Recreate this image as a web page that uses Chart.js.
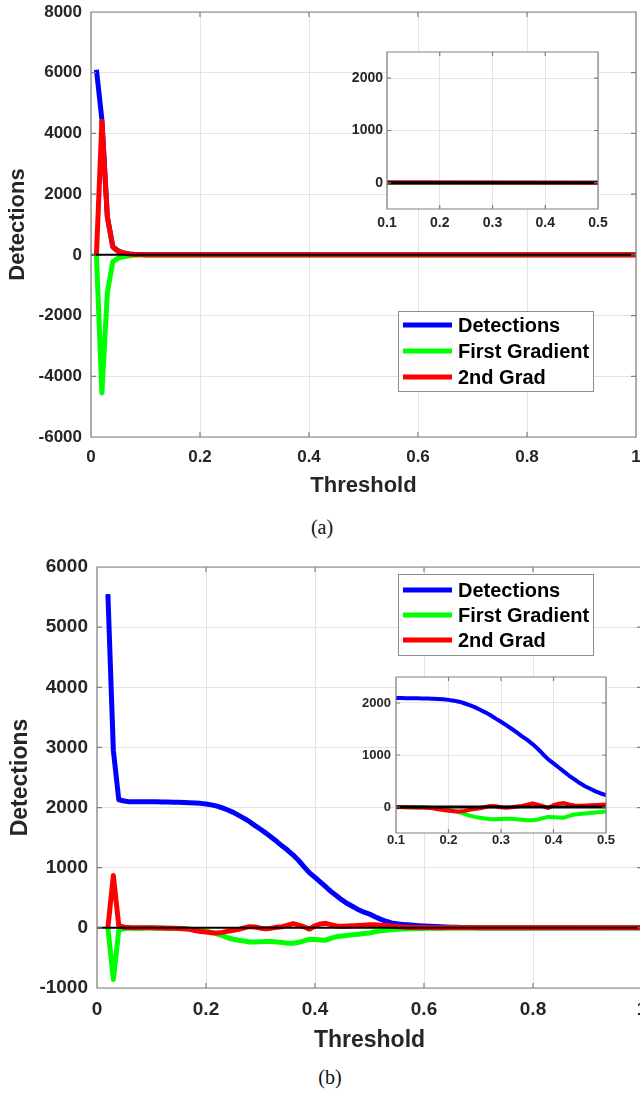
<!DOCTYPE html>
<html>
<head>
<meta charset="utf-8">
<script src="https://cdn.jsdelivr.net/npm/chart.js@4.4.1/dist/chart.umd.min.js"></script>
<style>
  html, body { margin: 0; padding: 0; background: #fff; }
  #page { position: relative; width: 640px; height: 1095px; overflow: hidden; background: #fff; }
  #page canvas { position: absolute; }
  .caption {
    position: absolute;
    font: 20px "Liberation Serif", "Times New Roman", serif;
    color: #111;
    transform: translate(-50%, -50%);
  }
</style>
</head>
<body>
<div id="page">
  <canvas id="mainA" width="650" height="499" style="left:0;top:0"></canvas>
  <canvas id="insetA" width="270" height="200" style="left:340px;top:42px"></canvas>
  <div class="caption" style="left:322px;top:527px">(a)</div>
  <canvas id="mainB" width="650" height="514" style="left:0;top:540px"></canvas>
  <canvas id="insetB" width="270" height="200" style="left:350px;top:667px"></canvas>
  <div class="caption" style="left:330px;top:1077px">(b)</div>
</div>
<script>
// ---- tick positions ----
const xTicksMain = [0, 0.2, 0.4, 0.6, 0.8, 1];
const xTicksInset = [0.1, 0.2, 0.3, 0.4, 0.5];
const yTicksA = [-6000, -4000, -2000, 0, 2000, 4000, 6000, 8000];
const yTicksB = [-1000, 0, 1000, 2000, 3000, 4000, 5000, 6000];
const yTicksInset = [0, 1000, 2000];

// ---- black reference line at zero ----
const zeroLineX = [0, 1];
const zeroLineY = [0, 0];

// ---- (a) threshold sweep ----
const thresholdA = [0.01, 0.02, 0.03, 0.04, 0.05, 0.06, 0.07, 0.08, 0.09, 0.10, 1.0];
const detectionsA = [6100, 4450, 1250, 270, 130, 60, 30, 15, 8, 4, 0];
const firstGradA = [0, -4550, -1250, -220, -110, -60, -30, -15, -8, -4, 0];
const secondGradA = [0, 4400, 1250, 260, 110, 60, 30, 15, 8, 4, 0];

// ---- (b) threshold sweep ----
const thresholdB = [
  0.02, 0.03, 0.04, 0.05, 0.06, 0.07, 0.08, 0.09, 0.10, 0.11,
  0.12, 0.13, 0.14, 0.15, 0.16, 0.17, 0.18, 0.19, 0.20, 0.21,
  0.22, 0.23, 0.24, 0.25, 0.26, 0.27, 0.28, 0.29, 0.30, 0.31,
  0.32, 0.33, 0.34, 0.35, 0.36, 0.37, 0.38, 0.39, 0.40, 0.41,
  0.42, 0.43, 0.44, 0.45, 0.46, 0.47, 0.48, 0.49, 0.50, 0.51,
  0.52, 0.53, 0.54, 0.55, 0.56, 0.57, 0.58, 0.59, 0.60, 0.61,
  0.62, 0.63, 0.64, 0.65, 0.66, 0.67, 0.68, 0.69, 0.70,
  1.0,
];
const detectionsB = [
  5550, 2950, 2130, 2110, 2095, 2095, 2095, 2095, 2095, 2095,
  2093, 2092, 2090, 2088, 2085, 2080, 2075, 2070, 2060, 2045,
  2025, 1995, 1960, 1920, 1870, 1820, 1765, 1700, 1640, 1575,
  1505, 1435, 1360, 1290, 1210, 1120, 1015, 915, 840, 760,
  680, 600, 530, 460, 400, 350, 300, 260, 230, 185,
  145, 110, 82, 68, 58, 50, 42, 35, 30, 25,
  21, 17, 14, 11, 9, 7, 5, 4, 3,
  0,
];
const firstGradB = [
  0, -860, -40, -10, -5, -5, -5, -3, -3, -3,
  -5, -8, -10, -12, -15, -20, -30, -40, -55, -75,
  -100, -130, -165, -190, -205, -220, -235, -235, -230, -225,
  -228, -235, -245, -255, -255, -240, -215, -190, -195, -200,
  -205, -170, -145, -135, -125, -115, -105, -95, -85, -65,
  -50, -40, -32, -25, -20, -16, -13, -11, -9, -7,
  -6, -5, -4, -3, -3, -2, -2, -1, -1,
  0,
];
const secondGradB = [
  0, 870, 35, 10, 5, 3, 2, 0, 0, -2,
  -3, -5, -8, -10, -15, -25, -45, -60, -70, -80,
  -85, -75, -55, -40, -25, 0, 20, 15, -5, -15,
  -5, 10, 20, 45, 70, 45, 15, -20, 35, 65,
  75, 50, 30, 25, 30, 35, 40, 45, 50, 50,
  45, 40, 30, 22, 15, 10, 8, 6, 5, 4,
  3, 3, 2, 2, 1, 1, 1, 0, 0,
  0,
];

const FONT = '"Liberation Sans", Arial, Helvetica, sans-serif';
const TEXT = '#262626';

function points(xs, ys) {
  return xs.map((x, i) => ({ x: x, y: ys[i] }));
}

// blue / green / red traces plus the zero line; lower order is drawn on top
function traces(xs, det, g1, g2, width, zeroWidth) {
  return [
    { label: 'Detections', data: points(xs, det), borderColor: '#0000ff', borderWidth: width, order: 4 },
    { label: 'First Gradient', data: points(xs, g1), borderColor: '#00ff00', borderWidth: width, order: 3 },
    { label: '2nd Grad', data: points(xs, g2), borderColor: '#ff0000', borderWidth: width, order: 2 },
    { label: '', data: points(zeroLineX, zeroLineY), borderColor: '#000000', borderWidth: zeroWidth, order: 1 },
  ];
}

// MATLAB-like box around the plot area with inward tick marks
const axesBox = {
  id: 'axesBox',
  beforeDraw(chart, args, opts) {
    if (!opts.fill) return;
    const { ctx, chartArea: a } = chart;
    ctx.save();
    ctx.fillStyle = opts.fill;
    ctx.fillRect(a.left, a.top, a.right - a.left, a.bottom - a.top);
    ctx.restore();
  },
  afterDatasetsDraw(chart, args, opts) {
    const { ctx, chartArea: a, scales } = chart;
    const len = opts.tickLength;
    ctx.save();
    ctx.strokeStyle = opts.color;
    ctx.lineWidth = opts.lineWidth;
    ctx.beginPath();
    for (const t of scales.x.ticks) {
      const px = scales.x.getPixelForValue(t.value);
      ctx.moveTo(px, a.bottom); ctx.lineTo(px, a.bottom - len);
      ctx.moveTo(px, a.top); ctx.lineTo(px, a.top + len);
    }
    for (const t of scales.y.ticks) {
      const py = scales.y.getPixelForValue(t.value);
      ctx.moveTo(a.left, py); ctx.lineTo(a.left + len, py);
      ctx.moveTo(a.right, py); ctx.lineTo(a.right - len, py);
    }
    ctx.rect(a.left, a.top, a.right - a.left, a.bottom - a.top);
    ctx.stroke();
    ctx.restore();
  },
};

// boxed legend placed inside the axes
const boxLegend = {
  id: 'boxLegend',
  afterDraw(chart, args, opts) {
    if (!opts.box) return;
    const { ctx } = chart;
    const [left, top, w, h] = opts.box;
    ctx.save();
    ctx.fillStyle = '#ffffff';
    ctx.fillRect(left, top, w, h);
    ctx.strokeStyle = '#8c8c8c';
    ctx.lineWidth = 1;
    ctx.strokeRect(left + 0.5, top + 0.5, w, h);
    ctx.font = 'bold 20px ' + FONT;
    ctx.textBaseline = 'middle';
    chart.data.datasets.filter(ds => ds.label).forEach((ds, i) => {
      const y = top + opts.firstRow + i * opts.rowGap;
      ctx.strokeStyle = ds.borderColor;
      ctx.lineWidth = 5;
      ctx.beginPath();
      ctx.moveTo(left + 5, y);
      ctx.lineTo(left + 54, y);
      ctx.stroke();
      ctx.fillStyle = '#000000';
      ctx.fillText(ds.label, left + 60, y + 1);
    });
    ctx.restore();
  },
};

function buildChart(id, o) {
  const tickFont = { family: FONT, weight: 'bold', size: o.tickSize };
  const titleFont = { family: FONT, weight: 'bold', size: o.titleSize || 22 };
  return new Chart(document.getElementById(id), {
    type: 'line',
    data: { datasets: o.datasets },
    options: {
      responsive: false,
      animation: false,
      devicePixelRatio: 1,
      layout: { padding: o.padding },
      elements: {
        point: { radius: 0 },
        line: { tension: 0, borderJoinStyle: 'round', borderCapStyle: 'butt' },
      },
      datasets: { line: { clip: 0 } },
      plugins: {
        legend: { display: false },
        tooltip: { enabled: false },
        axesBox: { color: '#808080', lineWidth: 1.2, tickLength: o.tickLength, fill: o.fill },
        boxLegend: o.legend || {},
      },
      scales: {
        x: {
          type: 'linear',
          min: o.xTicks[0],
          max: o.xTicks[o.xTicks.length - 1],
          // fixed axis band; edge labels may overhang the layout padding
          afterFit: s => { s.height = o.xHeight; s.paddingLeft = 0; s.paddingRight = 0; },
          afterBuildTicks: s => { s.ticks = o.xTicks.map(v => ({ value: v })); },
          ticks: { color: TEXT, font: tickFont, padding: o.xPad, maxRotation: 0, autoSkip: false, callback: v => String(v) },
          grid: { color: '#e3e3e3', lineWidth: 1, drawTicks: false },
          border: { display: false },
          title: o.titles
            ? { display: true, text: 'Threshold', color: TEXT, font: titleFont, padding: { top: 0, bottom: 0 } }
            : { display: false },
        },
        y: {
          min: o.yRange[0],
          max: o.yRange[1],
          afterFit: s => { s.width = o.yWidth; s.paddingTop = 0; s.paddingBottom = 0; },
          afterBuildTicks: s => { s.ticks = o.yTicks.map(v => ({ value: v })); },
          ticks: { color: TEXT, font: tickFont, padding: o.yPad, autoSkip: false, callback: v => String(v) },
          grid: { color: '#e3e3e3', lineWidth: 1, drawTicks: false },
          border: { display: false },
          title: o.titles
            ? { display: true, text: 'Detections', color: TEXT, font: titleFont, padding: { top: o.yTitlePad, bottom: 0 } }
            : { display: false },
        },
      },
    },
    plugins: [axesBox, boxLegend],
  });
}

// (a) main axes
buildChart('mainA', {
  datasets: traces(thresholdA, detectionsA, firstGradA, secondGradA, 5, 2),
  padding: { top: 12, right: 14, bottom: 0, left: 0 },
  xTicks: xTicksMain, yTicks: yTicksA, yRange: [-6000, 8000],
  xHeight: 62, yWidth: 91, xPad: 10, yPad: 9, yTitlePad: 5,
  tickSize: 17, titleSize: 22, tickLength: 5, titles: true,
  legend: { box: [398, 311, 195, 80], firstRow: 14, rowGap: 26 },
});

// (a) inset, 0.1 to 0.5
buildChart('insetA', {
  datasets: traces(thresholdA, detectionsA, firstGradA, secondGradA, 4, 3),
  padding: { top: 10, right: 12, bottom: 0, left: 0 },
  xTicks: xTicksInset, yTicks: yTicksInset, yRange: [-500, 2500],
  xHeight: 33, yWidth: 47, xPad: 6, yPad: 4,
  tickSize: 14, tickLength: 4, titles: false, fill: '#ffffff',
});

// (b) main axes
buildChart('mainB', {
  datasets: traces(thresholdB, detectionsB, firstGradB, secondGradB, 5, 2),
  padding: { top: 27, right: 8, bottom: 0, left: 0 },
  xTicks: xTicksMain, yTicks: yTicksB, yRange: [-1000, 6000],
  xHeight: 66, yWidth: 97, xPad: 10, yPad: 9, yTitlePad: 7,
  tickSize: 19, titleSize: 23, tickLength: 5, titles: true,
  legend: { box: [398, 34, 195, 81], firstRow: 16, rowGap: 25 },
});

// (b) inset, 0.1 to 0.5
buildChart('insetB', {
  datasets: traces(thresholdB, detectionsB, firstGradB, secondGradB, 4, 3),
  padding: { top: 10, right: 14, bottom: 0, left: 0 },
  xTicks: xTicksInset, yTicks: yTicksInset, yRange: [-500, 2500],
  xHeight: 34, yWidth: 46, xPad: 0, yPad: 5,
  tickSize: 13, tickLength: 4, titles: false, fill: '#ffffff',
});
</script>
</body>
</html>
